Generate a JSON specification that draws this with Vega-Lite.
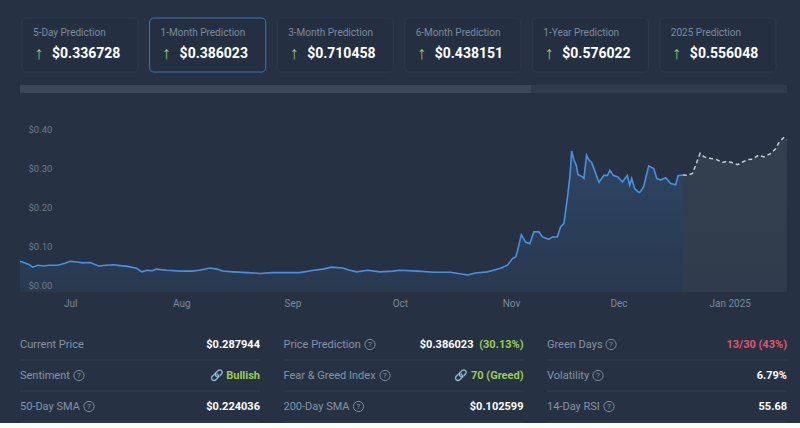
{
  "$schema": "https://vega.github.io/schema/vega-lite/v6.json",
  "background": "#263244",
  "padding": {"left": 16, "top": 17, "right": 17, "bottom": 0},
  "spacing": 12,
  "resolve": {"scale": {"color": "independent"}},
  "config": {
    "view": {"stroke": null},
    "font": "Roboto",
    "axis": {"labelFont": "Roboto"}
  },
  "datasets": {
    "cards": [
      {"card": "5-Day Prediction", "price": "$0.336728", "selected": false},
      {"card": "1-Month Prediction", "price": "$0.386023", "selected": true},
      {"card": "3-Month Prediction", "price": "$0.710458", "selected": false},
      {"card": "6-Month Prediction", "price": "$0.438151", "selected": false},
      {"card": "1-Year Prediction", "price": "$0.576022", "selected": false},
      {"card": "2025 Prediction", "price": "$0.556048", "selected": false}
    ],
    "scroll": [
      {"track": "cards", "part": "visible", "cards": 6, "seq": 1},
      {"track": "cards", "part": "hidden", "cards": 3, "seq": 2}
    ],
    "prices": [
      {"date": "2024-06-17T00:00", "price": 0.063, "series": "actual"},
      {"date": "2024-06-19T12:00", "price": 0.055, "series": "actual"},
      {"date": "2024-06-20T12:00", "price": 0.048, "series": "actual"},
      {"date": "2024-06-22T00:00", "price": 0.053, "series": "actual"},
      {"date": "2024-06-23T12:00", "price": 0.051, "series": "actual"},
      {"date": "2024-06-25T00:00", "price": 0.053, "series": "actual"},
      {"date": "2024-06-27T12:00", "price": 0.053, "series": "actual"},
      {"date": "2024-06-29T12:00", "price": 0.058, "series": "actual"},
      {"date": "2024-07-01T00:00", "price": 0.063, "series": "actual"},
      {"date": "2024-07-03T00:00", "price": 0.061, "series": "actual"},
      {"date": "2024-07-04T12:00", "price": 0.059, "series": "actual"},
      {"date": "2024-07-06T12:00", "price": 0.060, "series": "actual"},
      {"date": "2024-07-09T00:00", "price": 0.051, "series": "actual"},
      {"date": "2024-07-11T00:00", "price": 0.053, "series": "actual"},
      {"date": "2024-07-13T00:00", "price": 0.054, "series": "actual"},
      {"date": "2024-07-15T00:00", "price": 0.052, "series": "actual"},
      {"date": "2024-07-17T00:00", "price": 0.050, "series": "actual"},
      {"date": "2024-07-19T12:00", "price": 0.045, "series": "actual"},
      {"date": "2024-07-21T00:00", "price": 0.036, "series": "actual"},
      {"date": "2024-07-22T12:00", "price": 0.040, "series": "actual"},
      {"date": "2024-07-24T00:00", "price": 0.039, "series": "actual"},
      {"date": "2024-07-25T00:00", "price": 0.043, "series": "actual"},
      {"date": "2024-07-28T00:00", "price": 0.040, "series": "actual"},
      {"date": "2024-08-01T00:00", "price": 0.038, "series": "actual"},
      {"date": "2024-08-04T00:00", "price": 0.038, "series": "actual"},
      {"date": "2024-08-06T00:00", "price": 0.040, "series": "actual"},
      {"date": "2024-08-09T00:00", "price": 0.046, "series": "actual"},
      {"date": "2024-08-11T00:00", "price": 0.043, "series": "actual"},
      {"date": "2024-08-12T12:00", "price": 0.038, "series": "actual"},
      {"date": "2024-08-15T12:00", "price": 0.036, "series": "actual"},
      {"date": "2024-08-19T12:00", "price": 0.034, "series": "actual"},
      {"date": "2024-08-23T00:00", "price": 0.032, "series": "actual"},
      {"date": "2024-08-26T12:00", "price": 0.034, "series": "actual"},
      {"date": "2024-08-31T12:00", "price": 0.034, "series": "actual"},
      {"date": "2024-09-03T00:00", "price": 0.034, "series": "actual"},
      {"date": "2024-09-07T00:00", "price": 0.040, "series": "actual"},
      {"date": "2024-09-09T12:00", "price": 0.043, "series": "actual"},
      {"date": "2024-09-12T00:00", "price": 0.048, "series": "actual"},
      {"date": "2024-09-15T00:00", "price": 0.046, "series": "actual"},
      {"date": "2024-09-17T00:00", "price": 0.040, "series": "actual"},
      {"date": "2024-09-19T00:00", "price": 0.036, "series": "actual"},
      {"date": "2024-09-22T00:00", "price": 0.040, "series": "actual"},
      {"date": "2024-09-25T12:00", "price": 0.036, "series": "actual"},
      {"date": "2024-09-29T00:00", "price": 0.038, "series": "actual"},
      {"date": "2024-10-01T00:00", "price": 0.040, "series": "actual"},
      {"date": "2024-10-05T22:00", "price": 0.038, "series": "actual"},
      {"date": "2024-10-10T10:00", "price": 0.035, "series": "actual"},
      {"date": "2024-10-15T02:00", "price": 0.035, "series": "actual"},
      {"date": "2024-10-19T22:00", "price": 0.028, "series": "actual"},
      {"date": "2024-10-22T02:00", "price": 0.033, "series": "actual"},
      {"date": "2024-10-25T10:00", "price": 0.036, "series": "actual"},
      {"date": "2024-10-27T02:00", "price": 0.040, "series": "actual"},
      {"date": "2024-10-29T02:00", "price": 0.045, "series": "actual"},
      {"date": "2024-10-31T00:00", "price": 0.053, "series": "actual"},
      {"date": "2024-11-01T10:00", "price": 0.070, "series": "actual"},
      {"date": "2024-11-02T07:00", "price": 0.074, "series": "actual"},
      {"date": "2024-11-02T18:00", "price": 0.087, "series": "actual"},
      {"date": "2024-11-03T21:00", "price": 0.131, "series": "actual"},
      {"date": "2024-11-05T01:00", "price": 0.112, "series": "actual"},
      {"date": "2024-11-06T06:00", "price": 0.108, "series": "actual"},
      {"date": "2024-11-07T09:00", "price": 0.138, "series": "actual"},
      {"date": "2024-11-08T19:00", "price": 0.138, "series": "actual"},
      {"date": "2024-11-09T18:00", "price": 0.125, "series": "actual"},
      {"date": "2024-11-11T14:00", "price": 0.119, "series": "actual"},
      {"date": "2024-11-12T12:00", "price": 0.125, "series": "actual"},
      {"date": "2024-11-13T22:00", "price": 0.125, "series": "actual"},
      {"date": "2024-11-14T20:00", "price": 0.151, "series": "actual"},
      {"date": "2024-11-15T18:00", "price": 0.159, "series": "actual"},
      {"date": "2024-11-16T17:00", "price": 0.223, "series": "actual"},
      {"date": "2024-11-17T11:00", "price": 0.282, "series": "actual"},
      {"date": "2024-11-17T22:00", "price": 0.344, "series": "actual"},
      {"date": "2024-11-18T13:00", "price": 0.321, "series": "actual"},
      {"date": "2024-11-19T05:00", "price": 0.308, "series": "actual"},
      {"date": "2024-11-19T16:00", "price": 0.284, "series": "actual"},
      {"date": "2024-11-20T22:00", "price": 0.278, "series": "actual"},
      {"date": "2024-11-21T08:00", "price": 0.274, "series": "actual"},
      {"date": "2024-11-22T02:00", "price": 0.333, "series": "actual"},
      {"date": "2024-11-22T18:00", "price": 0.321, "series": "actual"},
      {"date": "2024-11-23T12:00", "price": 0.315, "series": "actual"},
      {"date": "2024-11-24T15:00", "price": 0.287, "series": "actual"},
      {"date": "2024-11-25T13:00", "price": 0.264, "series": "actual"},
      {"date": "2024-11-26T22:00", "price": 0.282, "series": "actual"},
      {"date": "2024-11-27T21:00", "price": 0.282, "series": "actual"},
      {"date": "2024-11-28T14:00", "price": 0.295, "series": "actual"},
      {"date": "2024-11-29T13:00", "price": 0.282, "series": "actual"},
      {"date": "2024-11-30T20:00", "price": 0.278, "series": "actual"},
      {"date": "2024-12-02T02:00", "price": 0.265, "series": "actual"},
      {"date": "2024-12-03T11:00", "price": 0.282, "series": "actual"},
      {"date": "2024-12-04T03:00", "price": 0.257, "series": "actual"},
      {"date": "2024-12-04T16:00", "price": 0.274, "series": "actual"},
      {"date": "2024-12-05T12:00", "price": 0.248, "series": "actual"},
      {"date": "2024-12-06T10:00", "price": 0.240, "series": "actual"},
      {"date": "2024-12-06T22:00", "price": 0.238, "series": "actual"},
      {"date": "2024-12-08T00:00", "price": 0.253, "series": "actual"},
      {"date": "2024-12-09T10:00", "price": 0.306, "series": "actual"},
      {"date": "2024-12-10T20:00", "price": 0.299, "series": "actual"},
      {"date": "2024-12-11T16:00", "price": 0.274, "series": "actual"},
      {"date": "2024-12-12T18:00", "price": 0.270, "series": "actual"},
      {"date": "2024-12-14T04:00", "price": 0.276, "series": "actual"},
      {"date": "2024-12-15T13:00", "price": 0.261, "series": "actual"},
      {"date": "2024-12-16T23:00", "price": 0.258, "series": "actual"},
      {"date": "2024-12-17T14:00", "price": 0.281, "series": "actual"},
      {"date": "2024-12-18T22:00", "price": 0.283, "series": "actual"},
      {"date": "2024-12-18T22:00", "price": 0.283, "series": "forecast"},
      {"date": "2024-12-20T06:00", "price": 0.282, "series": "forecast"},
      {"date": "2024-12-21T15:00", "price": 0.287, "series": "forecast"},
      {"date": "2024-12-22T13:00", "price": 0.308, "series": "forecast"},
      {"date": "2024-12-23T18:00", "price": 0.338, "series": "forecast"},
      {"date": "2024-12-24T21:00", "price": 0.329, "series": "forecast"},
      {"date": "2024-12-26T18:00", "price": 0.325, "series": "forecast"},
      {"date": "2024-12-28T03:00", "price": 0.323, "series": "forecast"},
      {"date": "2024-12-30T00:00", "price": 0.315, "series": "forecast"},
      {"date": "2024-12-31T10:00", "price": 0.318, "series": "forecast"},
      {"date": "2025-01-03T05:00", "price": 0.309, "series": "forecast"},
      {"date": "2025-01-04T14:00", "price": 0.316, "series": "forecast"},
      {"date": "2025-01-06T00:00", "price": 0.322, "series": "forecast"},
      {"date": "2025-01-07T09:00", "price": 0.323, "series": "forecast"},
      {"date": "2025-01-08T23:00", "price": 0.333, "series": "forecast"},
      {"date": "2025-01-10T15:00", "price": 0.329, "series": "forecast"},
      {"date": "2025-01-12T12:00", "price": 0.338, "series": "forecast"},
      {"date": "2025-01-13T21:00", "price": 0.350, "series": "forecast"},
      {"date": "2025-01-14T20:00", "price": 0.367, "series": "forecast"},
      {"date": "2025-01-16T01:00", "price": 0.378, "series": "forecast"},
      {"date": "2025-01-16T23:00", "price": 0.372, "series": "forecast"}
    ],
    "stats": [
      {"group": "A", "row": 1, "label": "Current Price", "help": false, "value": "$0.287944", "tone": "neutral", "link": false, "note": null},
      {"group": "A", "row": 2, "label": "Sentiment", "help": true, "value": "Bullish", "tone": "positive", "link": true, "note": null},
      {"group": "A", "row": 3, "label": "50-Day SMA", "help": true, "value": "$0.224036", "tone": "neutral", "link": false, "note": null},
      {"group": "B", "row": 1, "label": "Price Prediction", "help": true, "value": "$0.386023", "tone": "neutral", "link": false, "note": "(30.13%)"},
      {"group": "B", "row": 2, "label": "Fear & Greed Index", "help": true, "value": "70 (Greed)", "tone": "positive", "link": true, "note": null},
      {"group": "B", "row": 3, "label": "200-Day SMA", "help": true, "value": "$0.102599", "tone": "neutral", "link": false, "note": null},
      {"group": "C", "row": 1, "label": "Green Days", "help": true, "value": "13/30 (43%)", "tone": "negative", "link": false, "note": null},
      {"group": "C", "row": 2, "label": "Volatility", "help": true, "value": "6.79%", "tone": "neutral", "link": false, "note": null},
      {"group": "C", "row": 3, "label": "14-Day RSI", "help": true, "value": "55.68", "tone": "neutral", "link": false, "note": null}
    ]
  },
  "vconcat": [
    {
      "width": 758,
      "height": 54,
      "data": {"name": "cards"},
      "encoding": {
        "x": {"field": "card", "type": "nominal", "sort": null, "axis": null,
              "scale": {"type": "band", "paddingInner": 0.09, "paddingOuter": 0.016}}
      },
      "layer": [
        {
          "mark": {"type": "rect", "cornerRadius": 4, "strokeWidth": 1, "fill": "#243042"},
          "encoding": {
            "stroke": {"condition": {"test": "datum.selected", "value": "#3d73b0"}, "value": "#2f3b4d"}
          }
        },
        {
          "mark": {"type": "text", "align": "left", "baseline": "middle", "dx": 11, "dy": -12, "fontSize": 10, "color": "#7d8a9d"},
          "encoding": {
            "x": {"field": "card", "type": "nominal", "sort": null, "bandPosition": 0},
            "text": {"field": "card"}
          }
        },
        {
          "mark": {"type": "text", "align": "center", "baseline": "middle", "dx": 17, "dy": 9, "fontSize": 18, "color": "#9ccc65", "text": "↑"},
          "encoding": {
            "x": {"field": "card", "type": "nominal", "sort": null, "bandPosition": 0}
          }
        },
        {
          "mark": {"type": "text", "align": "left", "baseline": "middle", "dx": 30, "dy": 9, "fontSize": 14, "fontWeight": "bold", "color": "#ffffff"},
          "encoding": {
            "x": {"field": "card", "type": "nominal", "sort": null, "bandPosition": 0},
            "text": {"field": "price"}
          }
        }
      ]
    },
    {
      "width": 767,
      "height": 8,
      "data": {"name": "scroll"},
      "mark": {"type": "bar"},
      "encoding": {
        "x": {"field": "cards", "type": "quantitative", "stack": "normalize", "axis": null},
        "y": {"field": "track", "type": "nominal", "axis": null, "scale": {"paddingInner": 0, "paddingOuter": 0}},
        "color": {"field": "part", "type": "nominal", "legend": null,
                  "scale": {"domain": ["visible", "hidden"], "range": ["#3a4758", "#303c4d"]}},
        "order": {"field": "seq"}
      }
    },
    {
      "width": 767,
      "height": 187,
      "data": {"name": "prices"},
      "encoding": {
        "x": {
          "field": "date", "type": "temporal",
          "scale": {"domain": [{"year": 2024, "month": 6, "date": 17}, {"year": 2025, "month": 1, "date": 17}]},
          "axis": {
            "title": null, "domain": false, "ticks": false, "grid": false,
            "labelPadding": 6, "labelFontSize": 10, "labelColor": "#7b889b",
            "tickCount": {"interval": "month", "step": 1},
            "labelExpr": "month(datum.value) == 0 ? timeFormat(datum.value, '%b %Y') : timeFormat(datum.value, '%b')",
            "labelFlush": false, "minExtent": 25, "maxExtent": 25
          }
        },
        "y": {
          "field": "price", "type": "quantitative",
          "scale": {"domain": [-0.0153, 0.4612], "nice": false, "zero": false},
          "axis": {
            "title": null, "domain": false, "ticks": false, "tickSize": 0, "grid": false,
            "values": [0, 0.1, 0.2, 0.3, 0.4],
            "labelAlign": "left", "labelBaseline": "middle", "labelPadding": -8,
            "labelFontSize": 9.5, "labelColor": "#6d7a8c",
            "labelExpr": "'$' + format(datum.value, '.2f')",
            "minExtent": 0, "maxExtent": 0, "zindex": 1
          }
        }
      },
      "layer": [
        {
          "transform": [{"filter": "datum.series == 'actual'"}],
          "mark": {
            "type": "area",
            "fill": {"x1": 0, "y1": 0, "x2": 0, "y2": 1, "gradient": "linear",
                     "stops": [{"offset": 0, "color": "rgba(74,144,226,0.20)"}, {"offset": 1, "color": "rgba(74,144,226,0.07)"}]}
          },
          "encoding": {"y2": {"datum": -0.0153}}
        },
        {
          "transform": [{"filter": "datum.series == 'forecast'"}],
          "mark": {
            "type": "area",
            "fill": {"x1": 0, "y1": 0, "x2": 0, "y2": 1, "gradient": "linear",
                     "stops": [{"offset": 0, "color": "rgba(200,200,200,0.085)"}, {"offset": 1, "color": "rgba(200,200,200,0.06)"}]}
          },
          "encoding": {"y2": {"datum": -0.0153}}
        },
        {
          "transform": [{"filter": "datum.series == 'actual'"}],
          "mark": {"type": "line", "color": "#4a90e2", "strokeWidth": 1.6}
        },
        {
          "transform": [{"filter": "datum.series == 'forecast'"}],
          "mark": {"type": "line", "color": "#c6ccd4", "strokeWidth": 1.5, "strokeDash": [4, 3]}
        }
      ]
    },
    {
      "width": 767,
      "height": 93,
      "data": {"name": "stats"},
      "encoding": {
        "x": {"field": "group", "type": "nominal", "axis": null,
              "scale": {"type": "band", "paddingInner": 0.0892, "paddingOuter": 0}},
        "y": {"field": "row", "type": "ordinal", "axis": null,
              "scale": {"type": "band", "paddingInner": 0, "paddingOuter": 0}}
      },
      "layer": [
        {
          "mark": {"type": "rule", "color": "#324052", "strokeWidth": 1},
          "encoding": {
            "x": {"field": "group", "type": "nominal", "bandPosition": 0},
            "x2": {"field": "group", "bandPosition": 1},
            "y": {"field": "row", "type": "ordinal", "bandPosition": 1}
          }
        },
        {
          "mark": {"type": "text", "align": "left", "baseline": "middle", "fontSize": 11, "color": "#8592a5"},
          "encoding": {
            "x": {"field": "group", "type": "nominal", "bandPosition": 0},
            "y": {"field": "row", "type": "ordinal", "bandPosition": 0.5},
            "text": {"field": "label"}
          }
        },
        {
          "transform": [{"filter": "datum.help"}],
          "mark": {"type": "point", "shape": "circle", "filled": false, "size": 105, "strokeWidth": 1, "color": "#7f8c9e", "opacity": 1,
                   "xOffset": {"expr": "{'Sentiment': 59, '50-Day SMA': 69, 'Price Prediction': 86.5, 'Fear & Greed Index': 101.5, '200-Day SMA': 75, 'Green Days': 64, 'Volatility': 51, '14-Day RSI': 62}[datum.label]"}},
          "encoding": {
            "x": {"field": "group", "type": "nominal", "bandPosition": 0},
            "y": {"field": "row", "type": "ordinal", "bandPosition": 0.5}
          }
        },
        {
          "transform": [{"filter": "datum.help"}],
          "mark": {"type": "text", "align": "center", "baseline": "middle", "fontSize": 8, "color": "#8592a5", "text": "?", "dy": 0.5,
                   "dx": {"expr": "{'Sentiment': 59, '50-Day SMA': 69, 'Price Prediction': 86.5, 'Fear & Greed Index': 101.5, '200-Day SMA': 75, 'Green Days': 64, 'Volatility': 51, '14-Day RSI': 62}[datum.label]"}},
          "encoding": {
            "x": {"field": "group", "type": "nominal", "bandPosition": 0},
            "y": {"field": "row", "type": "ordinal", "bandPosition": 0.5}
          }
        },
        {
          "transform": [{"filter": "datum.link"}],
          "mark": {"type": "text", "align": "right", "baseline": "middle", "fontSize": 11, "color": "#8592a5", "text": "\ud83d\udd17",
                   "dx": {"expr": "datum.label == 'Sentiment' ? -36 : -55"}},
          "encoding": {
            "x": {"field": "group", "type": "nominal", "bandPosition": 1},
            "y": {"field": "row", "type": "ordinal", "bandPosition": 0.5}
          }
        },
        {
          "transform": [{"filter": "!datum.note"}],
          "mark": {"type": "text", "align": "right", "baseline": "middle", "fontSize": 11, "fontWeight": "bold"},
          "encoding": {
            "x": {"field": "group", "type": "nominal", "bandPosition": 1},
            "y": {"field": "row", "type": "ordinal", "bandPosition": 0.5},
            "text": {"field": "value"},
            "color": {"field": "tone", "type": "nominal", "legend": null,
                      "scale": {"domain": ["neutral", "positive", "negative"], "range": ["#ffffff", "#9ccc50", "#e0566e"]}}
          }
        },
        {
          "transform": [{"filter": "datum.note"}],
          "mark": {"type": "text", "align": "right", "baseline": "middle", "fontSize": 11, "fontWeight": "bold", "dx": -50, "color": "#ffffff"},
          "encoding": {
            "x": {"field": "group", "type": "nominal", "bandPosition": 1},
            "y": {"field": "row", "type": "ordinal", "bandPosition": 0.5},
            "text": {"field": "value"}
          }
        },
        {
          "transform": [{"filter": "datum.note"}],
          "mark": {"type": "text", "align": "right", "baseline": "middle", "fontSize": 11, "fontWeight": "bold", "color": "#9ccc50"},
          "encoding": {
            "x": {"field": "group", "type": "nominal", "bandPosition": 1},
            "y": {"field": "row", "type": "ordinal", "bandPosition": 0.5},
            "text": {"field": "note"}
          }
        }
      ]
    }
  ]
}
